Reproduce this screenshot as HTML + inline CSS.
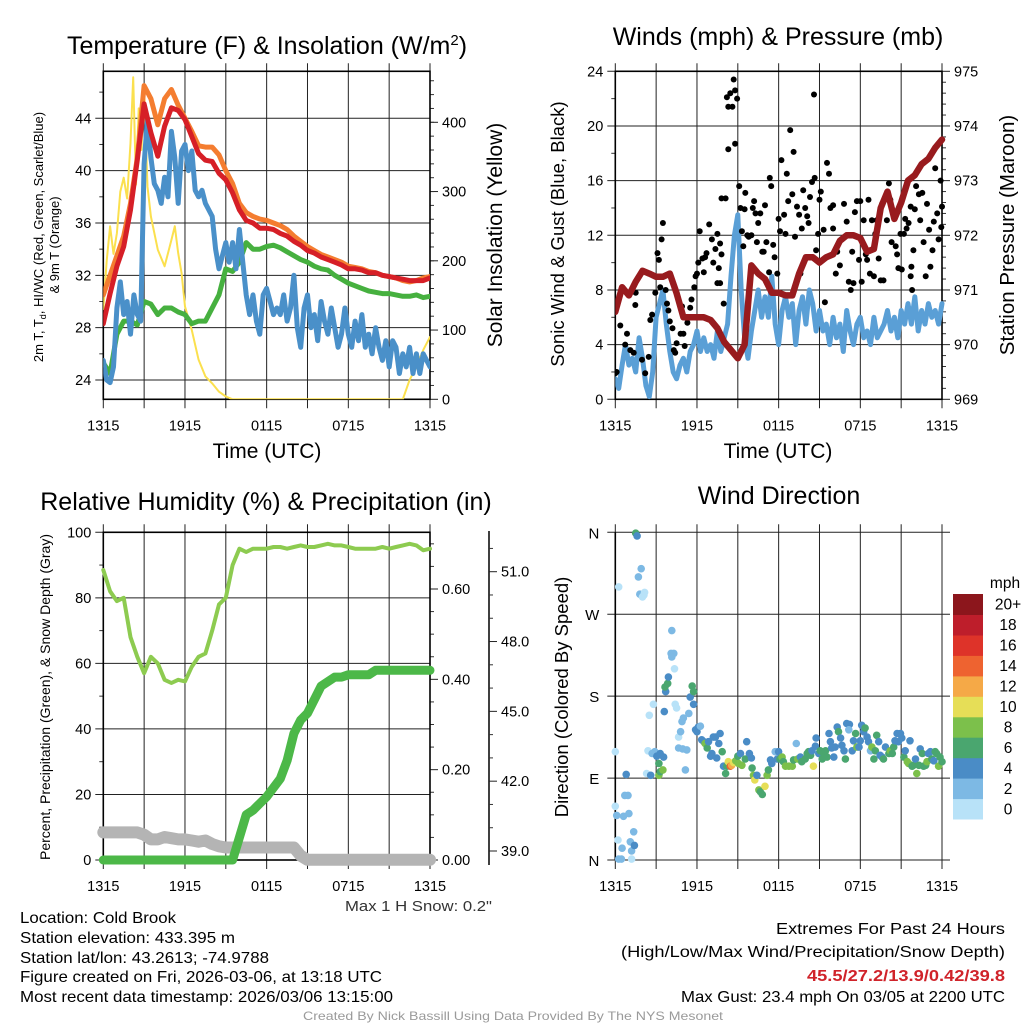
<!DOCTYPE html>
<html><head><meta charset="utf-8"><style>
html,body{margin:0;padding:0;background:#fff;}
svg{display:block;font-family:"Liberation Sans",Arial,sans-serif;}
</style></head><body>
<svg id="chart" width="1024" height="1024" viewBox="0 0 1024 1024" xmlns="http://www.w3.org/2000/svg">
<rect x="0" y="0" width="1024" height="1024" fill="#fff"/>
<!-- titles -->
<text x="267" y="54" font-size="25" text-anchor="middle">Temperature (F) &amp; Insolation (W/m<tspan dy="-9" font-size="15">2</tspan><tspan dy="9">)</tspan></text>
<text x="778" y="45" font-size="25" text-anchor="middle">Winds (mph) &amp; Pressure (mb)</text>
<text x="266" y="510" font-size="25" text-anchor="middle">Relative Humidity (%) &amp; Precipitation (in)</text>
<text x="779" y="504" font-size="25" text-anchor="middle">Wind Direction</text>
<!-- axis titles -->
<text x="267" y="458" font-size="21" text-anchor="middle">Time (UTC)</text>
<text x="778" y="458" font-size="21" text-anchor="middle">Time (UTC)</text>
<text transform="translate(43,237) rotate(-90)" font-size="13" text-anchor="middle">2m T, T<tspan font-size="9" dy="3">d</tspan><tspan dy="-3">, HI/WC (Red, Green, Scarlet/Blue)</tspan></text>
<text transform="translate(59,245) rotate(-90)" font-size="13" text-anchor="middle">&amp; 9m T (Orange)</text>
<text transform="translate(502,235) rotate(-90)" font-size="21" text-anchor="middle">Solar Insolation (Yellow)</text>
<text transform="translate(564,234) rotate(-90)" font-size="18.5" text-anchor="middle">Sonic Wind &amp; Gust (Blue, Black)</text>
<text transform="translate(1014,235) rotate(-90)" font-size="20.5" text-anchor="middle">Station Pressure (Maroon)</text>
<text transform="translate(50,697) rotate(-90)" font-size="14" text-anchor="middle">Percent, Precipitation (Green), &amp; Snow Depth (Gray)</text>
<text transform="translate(568,697) rotate(-90)" font-size="18.5" text-anchor="middle">Direction (Colored By Speed)</text>
<!-- footer -->
<g font-size="16">
<text x="20" y="923" textLength="156" lengthAdjust="spacingAndGlyphs">Location: Cold Brook</text>
<text x="20" y="943" textLength="215" lengthAdjust="spacingAndGlyphs">Station elevation: 433.395 m</text>
<text x="20" y="963" textLength="249" lengthAdjust="spacingAndGlyphs">Station lat/lon: 43.2613; -74.9788</text>
<text x="20" y="982" textLength="362" lengthAdjust="spacingAndGlyphs">Figure created on Fri, 2026-03-06, at 13:18 UTC</text>
<text x="20" y="1002" textLength="373" lengthAdjust="spacingAndGlyphs">Most recent data timestamp: 2026/03/06 13:15:00</text>
</g>
<g font-size="16">
<text x="776" y="934" textLength="229" lengthAdjust="spacingAndGlyphs">Extremes For Past 24 Hours</text>
<text x="621" y="957" textLength="384" lengthAdjust="spacingAndGlyphs">(High/Low/Max Wind/Precipitation/Snow Depth)</text>
<text x="807" y="981" textLength="198" lengthAdjust="spacingAndGlyphs" fill="#d0232a" font-weight="bold">45.5/27.2/13.9/0.42/39.8</text>
<text x="681" y="1002" textLength="324" lengthAdjust="spacingAndGlyphs">Max Gust: 23.4 mph On 03/05 at 2200 UTC</text>
</g>
<text x="345" y="911" font-size="15" textLength="147" lengthAdjust="spacingAndGlyphs" fill="#333">Max 1 H Snow: 0.2"</text>
<text x="303" y="1020" font-size="12" textLength="420" lengthAdjust="spacingAndGlyphs" fill="#9a9a9a">Created By Nick Bassill Using Data Provided By The NYS Mesonet</text>
</svg>
<script>
// ---------- DATA ----------
const tickTimes=[0,6,12,18,24];
const tickLabels=['1315','1915','0115','0715','1315'];
// Panel 1 (half-hour steps)
const tempRed=[28.3,30.6,32.7,34.2,37.0,40.8,45.1,42.9,41.1,43.4,44.8,44.6,43.9,42.6,41.3,40.8,40.7,39.8,39.3,38.3,37.0,36.2,36.0,35.6,35.6,35.5,35.2,35.0,34.6,34.3,33.9,33.7,33.4,33.2,33.0,32.8,32.5,32.5,32.4,32.2,32.2,32.0,31.9,31.8,31.7,31.6,31.6,31.6,31.8];
const temp9mOrange=[30.5,32.0,33.5,35.0,37.5,41.0,46.5,45.5,43.5,45.5,46.2,45.0,44.0,43.0,41.9,41.8,41.8,41.2,40.0,39.0,37.5,36.8,36.5,36.3,36.2,36.0,35.8,35.5,35.0,34.6,34.2,33.9,33.6,33.4,33.2,33.0,32.7,32.6,32.5,32.3,32.2,32.0,31.9,31.8,31.6,31.5,31.6,31.8,31.9];
const dewGreen=[25.3,24.5,27.5,28.5,28.5,28.2,30.0,29.8,29.0,29.5,29.5,29.2,29.0,28.3,28.5,28.5,29.5,30.5,32.5,32.3,33.0,34.5,34.0,34.0,34.2,34.3,34.1,33.8,33.5,33.2,33.0,32.7,32.5,32.4,32.0,31.7,31.4,31.2,31.0,30.8,30.7,30.6,30.6,30.5,30.4,30.4,30.5,30.3,30.4];
// quarter-hour steps
const windChillBlue=[25.5,24.0,23.8,25.0,29.5,31.5,29.0,30.0,27.5,30.5,29.0,28.5,40.5,44.0,41.0,39.0,38.5,37.5,39.5,38.0,43.0,41.0,37.5,41.5,42.0,40.0,41.5,38.5,38.0,38.5,37.5,37.0,36.5,34.0,32.5,33.5,34.5,33.0,34.5,32.5,35.5,33.0,30.5,29.0,30.5,28.5,27.5,30.5,31.0,30.0,29.0,29.5,29.0,30.5,28.5,29.5,32.0,28.0,26.5,29.5,30.5,28.0,29.0,27.0,30.0,28.5,27.5,29.5,28.0,26.5,27.5,29.5,27.5,26.5,28.5,27.0,29.0,26.5,27.5,26.0,28.0,26.5,25.5,27.0,25.0,27.0,26.5,24.5,26.0,25.0,26.5,24.5,26.0,24.5,26.0,25.5,25.0];
const solarTimes=[0,0.25,0.5,0.75,1,1.25,1.5,1.75,2,2.2,2.4,2.6,2.8,3,3.25,3.5,4,4.5,5,5.25,5.5,5.75,6,6.5,7,7.5,8,8.5,9,9.5,22,22.5,23,23.5,24];
const solarValues=[130,200,250,210,240,300,320,290,370,465,310,420,360,450,307,264,216,192,230,250,211,182,134,100,57,33,23,11,4,0,0,28,47,71,90];
// Panel 2
const sonicWind=[1.5,0.8,2.5,4.0,2.5,3.0,2.0,4.5,3.0,1.0,0.2,2.0,6.0,7.0,8.0,5.5,3.5,2.0,1.5,2.5,3.0,2.0,3.5,4.0,5.0,3.5,4.5,3.5,4.0,3.0,5.0,3.5,4.5,5.5,9.0,12.0,13.5,8.0,4.5,3.0,5.0,6.5,8.0,6.0,7.5,6.0,9.0,5.5,4.0,6.5,7.5,6.0,7.0,4.0,6.5,7.5,5.5,8.0,7.0,5.0,6.5,5.0,5.5,4.0,6.0,4.5,5.5,3.5,6.5,5.0,4.0,5.5,6.0,4.5,5.0,4.0,6.0,4.5,5.0,5.5,6.5,5.0,6.0,4.5,6.5,5.5,7.0,5.5,7.5,5.0,6.5,5.5,7.0,6.0,6.5,5.5,7.0];
const pressure=[970.6,971.05,970.9,971.15,971.35,971.3,971.24,971.24,971.3,970.94,970.5,970.5,970.5,970.5,970.45,970.3,970.05,969.9,969.75,970.0,971.45,971.3,971.2,970.95,970.95,970.9,970.9,971.3,971.6,971.6,971.5,971.6,971.65,971.9,972.0,972.0,971.95,971.7,971.75,972.5,972.8,972.3,972.6,973.0,973.1,973.3,973.4,973.6,973.75];
const gustTimes=[0,0.1,0.37,0.73,0.86,1.1,1.35,1.47,1.5,1.96,2.2,2.45,2.57,2.7,2.94,3.1,3.2,3.3,3.4,3.5,3.7,3.8,3.9,4.0,4.2,4.3,4.4,4.5,4.8,4.9,5.0,5.1,5.3,5.5,5.6,5.8,5.9,6.0,6.1,6.2,6.4,6.5,6.6,6.7,6.9,7.1,7.2,7.35,7.5,7.5,7.6,7.7,7.7,7.8,7.8,7.96,8.1,8.2,8.3,8.3,8.45,8.6,8.7,8.8,8.8,8.95,9.1,9.2,9.3,9.4,9.5,9.55,9.7,9.8,10.0,10.1,10.2,10.3,10.4,10.5,10.65,10.8,10.9,11.0,11.1,11.3,11.35,11.45,11.6,11.7,11.9,12.0,12.1,12.2,12.4,12.5,12.6,12.7,12.85,13.0,13.1,13.2,13.35,13.5,13.6,13.7,13.8,13.95,14.1,14.2,14.3,14.45,14.6,14.65,14.75,14.9,15.0,15.1,15.3,15.4,15.55,15.7,15.8,16.0,16.0,16.2,16.3,16.5,16.65,16.8,17.0,17.15,17.3,17.4,17.5,17.6,17.75,17.9,18.0,18.1,18.25,18.4,18.5,18.6,18.7,18.85,19.0,19.1,19.2,19.35,19.5,19.6,19.7,19.95,20.1,20.2,20.3,20.6,20.7,20.8,20.95,21.05,21.2,21.3,21.4,21.55,21.7,21.7,21.75,21.8,21.9,22.0,22.1,22.3,22.4,22.55,22.65,22.8,22.9,23.05,23.15,23.3,23.4,23.5,23.65,23.75,23.9,23.95,24.0];
const gustValues=[1.9,2.0,5.4,4.0,4.8,3.6,3.4,6.9,7.8,2.9,1.9,3.1,5.8,6.2,7.8,10.7,10.2,8.2,11.7,12.9,8.0,7.0,6.5,5.7,5.2,3.6,3.4,4.1,4.8,6.8,4.8,3.9,5.6,6.7,7.3,8.2,9.0,9.2,10.0,12.3,10.3,9.3,10.4,10.7,12.8,11.7,10.0,11.0,12.1,8.5,9.6,11.4,8.5,10.6,14.7,7.0,14.7,22.1,21.4,18.3,22.4,21.4,23.4,22.6,18.7,22.0,15.6,14.0,12.3,11.2,13.9,15.1,12.0,11.9,12.0,14.0,14.5,13.6,11.5,12.9,13.6,10.8,10.8,14.2,11.5,9.3,16.2,15.6,11.3,10.4,9.2,13.2,12.3,17.5,13.5,12.1,16.5,14.5,19.7,15.0,18.1,11.9,14.1,13.5,9.2,12.5,15.3,14.0,13.4,12.9,14.8,15.9,22.3,16.2,10.9,12.1,14.6,15.2,12.4,7.1,17.3,16.5,14.0,14.2,12.5,9.2,10.8,9.8,11.7,14.3,13.0,8.6,8.0,10.8,8.5,13.7,14.5,10.2,14.5,8.6,13.1,10.6,10.2,14.6,9.2,13.1,9.0,12.1,13.1,10.3,8.7,14.3,8.7,13.1,15.8,14.6,11.5,11.2,10.6,9.6,12.1,9.5,12.1,13.2,12.5,12.9,14.1,9.0,9.7,8.0,10.9,13.9,15.6,15.0,13.1,15.1,11.5,9.0,14.3,12.4,9.7,10.9,13.0,16.9,13.6,11.7,16.0,12.6,14.1];
// Panel 3 (half-hour steps)
const relHumidity=[88.5,82,79,80,68,62,57,62,60,55,54,55,54.5,59,62,63,70,78,80,90,95,94,95,95,95,95.5,95.5,95,95.5,96,95.5,95.5,96,96.5,96,96,95.5,95,95,95,95,95.5,95,95.5,96,96.5,96,94.5,95];
const precipIn=[0,0,0,0,0,0,0,0,0,0,0,0,0,0,0,0,0,0,0,0,0.05,0.10,0.11,0.125,0.14,0.16,0.18,0.22,0.28,0.31,0.325,0.355,0.385,0.395,0.405,0.405,0.41,0.41,0.41,0.41,0.42,0.42,0.42,0.42,0.42,0.42,0.42,0.42,0.42];
const snowDepth=[39.8,39.8,39.8,39.8,39.8,39.8,39.7,39.5,39.5,39.6,39.55,39.5,39.5,39.45,39.4,39.45,39.3,39.2,39.15,39.15,39.15,39.15,39.15,39.15,39.15,39.15,39.15,39.15,39.15,38.8,38.62,38.62,38.62,38.62,38.62,38.62,38.62,38.62,38.62,38.62,38.62,38.62,38.62,38.62,38.62,38.62,38.62,38.62,38.62];
// Panel 4
const dirTimes=[0,0,0.1,0.25,0.45,0.2,0.5,0.6,0.7,0.93,0.8,1.0,1.1,1.2,1.35,1.4,1.2,1.5,1.6,0.25,1.7,1.9,1.8,2.1,2.15,2.0,2.4,2.5,2.8,2.3,2.6,2.7,2.9,3.05,3.2,3.3,3.5,3.3,3.55,3.2,3.6,3.7,3.65,3.85,3.9,4.15,4.1,4.3,4.15,4.35,4.4,4.5,4.65,4.8,4.9,4.65,4.95,5.25,5.15,5.0,5.4,5.5,5.65,5.75,5.75,5.9,6.0,6.1,6.25,6.35,6.5,6.6,6.75,6.85,7.0,7.1,7.2,7.35,7.45,7.6,7.7,7.85,7.95,8.1,8.2,8.3,8.45,8.55,8.7,8.85,9.05,9.3,9.0,9.2,9.55,9.65,9.85,10.0,10.05,10.15,10.25,10.4,10.55,10.65,10.8,11.0,11.15,11.25,11.4,11.5,11.75,11.9,12.0,12.1,12.25,12.35,12.5,12.75,13.0,13.1,13.3,13.4,13.6,13.7,13.95,14.1,14.2,14.35,14.45,14.55,14.7,14.75,14.95,15.05,15.2,15.3,15.45,15.55,15.7,15.8,15.9,16.05,16.15,16.3,16.4,16.55,16.65,16.8,16.9,17.0,17.2,17.15,17.4,17.5,17.65,17.75,17.9,18.0,18.1,18.25,18.35,18.5,18.6,18.75,18.85,19.0,19.1,19.2,19.35,19.45,19.6,19.7,19.85,20.1,20.2,20.35,20.45,20.55,20.7,20.8,20.95,21.05,21.2,21.3,21.45,21.55,21.65,21.8,21.9,22.05,22.15,22.3,22.4,22.55,22.65,22.8,22.9,23.0,23.15,23.25,23.4,23.5,23.6,23.75,23.85,24.0];
const dirDegrees=[119,59,49,1,1,22,13,48,71,71,94,51,20,10,31,16,1,359,356,300,311,320,292,291,294,289,120,159,171,95,93,117,119,114,93,97,99,117,113,106,163,185,190,194,201,252,227,227,223,210,171,167,135,141,152,123,122,121,99,156,161,179,191,185,171,143,141,146,147,132,130,128,123,130,114,117,135,135,112,128,139,119,103,95,103,108,103,104,107,109,106,104,114,117,111,130,117,112,101,93,88,93,77,75,72,81,93,99,110,106,119,111,119,111,113,108,103,103,103,110,128,111,113,108,111,117,119,115,120,103,125,134,117,120,111,117,120,113,139,130,123,113,124,146,141,134,126,120,111,150,149,143,120,131,139,124,124,131,148,141,145,135,130,120,124,111,120,137,130,115,113,111,124,117,120,117,124,131,139,130,139,134,113,120,108,106,131,103,104,111,95,104,122,117,103,104,108,117,119,111,109,119,117,103,113,108];
const dirSpeeds=[1,1,3,3,3,1,3,3,3,3,5,3,3,3,3,5,1,7,5,1,3,3,3,1,1,1,1,1,1,1,5,3,3,5,9,7,9,5,5,7,5,5,7,7,5,3,3,3,3,1,1,1,1,3,3,3,3,3,3,3,3,5,7,7,5,5,5,5,3,5,5,9,7,5,5,5,5,5,5,5,5,7,5,7,7,11,15,13,11,9,9,9,7,5,7,5,5,5,7,9,11,5,9,7,7,11,9,7,5,5,3,5,5,7,9,7,9,9,9,7,3,9,5,7,7,7,7,7,5,11,5,5,5,7,7,7,7,7,5,5,5,5,5,5,7,5,5,5,7,5,5,3,5,5,7,9,5,5,5,5,7,5,5,3,9,7,7,7,5,5,5,7,5,7,9,7,7,5,5,5,5,5,7,5,9,9,5,7,7,5,9,7,5,7,7,7,9,5,5,7,5,7,7,9,7,7];
const dirTickValues=[0,90,180,270,360];
const dirTickLabels=['N','E','S','W','N'];
const speedBinLabels=['0','2','4','6','8','10','12','14','16','18','20+'];
const speedBinColors=['#b8e2f8','#7db9e4','#4a8cc6','#4aa66f','#7cc04b','#e6de57','#f5a947','#ee6330','#de3329','#be1e2b','#8c161c'];

// ---------- HELPERS ----------
const NS='http://www.w3.org/2000/svg';
const svg=document.getElementById('chart');
function mk(tag,attrs,parent,name){
  const e=document.createElementNS(NS,tag);
  for(const k in attrs) e.setAttribute(k,attrs[k]);
  
  
  (parent||svg).appendChild(e);
  return e;
}
function lin(d0,d1,r0,r1){return v=>r0+(v-d0)*(r1-r0)/(d1-d0);}
function halfHour(arr){return arr.map((_,i)=>i*24/(arr.length-1));}
function pathFrom(times,vals,xs,ys){
  let d='';
  const n=Math.min(times.length,vals.length);
  for(let i=0;i<n;i++){d+=(i?'L':'M')+xs(times[i]).toFixed(1)+' '+ys(vals[i]).toFixed(1);}
  return d;
}
function txt(x,y,s,anchor,parent,name,size){
  const t=mk('text',{x:x,y:y,'font-size':size||14.5,'text-anchor':anchor},parent,name);
  t.textContent=s;return t;
}
function panel(p,name){
  const g=mk('g',{},svg,name);
  for(let h=0;h<=24;h+=3){
    const x=p.xs(h);
    mk('line',{x1:x,x2:x,y1:p.y0-8,y2:p.y1+9,stroke:'#222','stroke-width':1},g,'v-gridline');
  }
  tickTimes.forEach((t,i)=>{txt(p.xs(t),p.y1+31,tickLabels[i],'middle',g,'x-tick-label');});
  return g;
}
function leftAxis(p,g,ticks,labels,ys,minors){
  ticks.forEach((v,i)=>{
    const y=ys(v);
    mk('line',{x1:p.x0-8,x2:p.x1,y1:y,y2:y,stroke:'#222','stroke-width':1},g,'h-gridline');
    txt(p.x0-12,y+5,labels[i],'end',g,'y-tick-label');
  });
  (minors||[]).forEach(v=>{const y=ys(v);mk('line',{x1:p.x0-4,x2:p.x0,y1:y,y2:y,stroke:'#333','stroke-width':1},g,'y-minor-tick');});
}
function rightAxis(x,g,ticks,labels,ys,minors,len,name){
  ticks.forEach((v,i)=>{
    const y=ys(v);
    mk('line',{x1:x,x2:x+len,y1:y,y2:y,stroke:'#222','stroke-width':1},g,name+'-tick');
    txt(x+12,y+5,labels[i],'start',g,name+'-tick-label');
  });
  minors.forEach(v=>{const y=ys(v);mk('line',{x1:x,x2:x+4,y1:y,y2:y,stroke:'#333','stroke-width':1},g,name+'-minor-tick');});
}
function frame(p,g){
  mk('rect',{x:p.x0,y:p.y0,width:p.x1-p.x0,height:p.y1-p.y0,fill:'none',stroke:'#000','stroke-width':1.6},g,'plot-frame');
}
function range(a,b,s){const r=[];for(let v=a;v<=b+1e-9;v+=s)r.push(+v.toFixed(3));return r;}

// ---------- PANEL 1 ----------
const P1={x0:103.3,x1:430,y0:71.3,y1:399.3};P1.xs=lin(0,24,P1.x0,P1.x1);
const yT=lin(24,44,380,118.3), ySol=lin(0,400,399.3,122.3);
const g1=panel(P1,'temperature-panel');
leftAxis(P1,g1,[24,28,32,36,40,44],['24','28','32','36','40','44'],yT,[26,30,34,38,42,46]);
rightAxis(P1.x1,g1,[0,100,200,300,400],['0','100','200','300','400'],ySol,range(20,460,20),8,'solar');
const clip1=mk('clipPath',{id:'c1'},svg,'clip-p1');
mk('rect',{x:P1.x0,y:P1.y0,width:P1.x1-P1.x0,height:P1.y1-P1.y0},clip1,'clip-rect');
const s1=mk('g',{'clip-path':'url(#c1)','stroke-linejoin':'round','stroke-linecap':'round',fill:'none'},svg,'temperature-series');
mk('path',{d:pathFrom(solarTimes,solarValues,P1.xs,ySol),stroke:'#fbe04e','stroke-width':2},s1,'solar-insolation-line');
mk('path',{d:pathFrom(halfHour(dewGreen),dewGreen,P1.xs,yT),stroke:'#46b03f','stroke-width':5},s1,'dewpoint-line');
mk('path',{d:pathFrom(halfHour(windChillBlue),windChillBlue,P1.xs,yT),stroke:'#4a90c9','stroke-width':5},s1,'wind-chill-line');
mk('path',{d:pathFrom(halfHour(temp9mOrange),temp9mOrange,P1.xs,yT),stroke:'#f47d30','stroke-width':5},s1,'temp-9m-line');
mk('path',{d:pathFrom(halfHour(tempRed),tempRed,P1.xs,yT),stroke:'#d61f27','stroke-width':5},s1,'temp-2m-line');
frame(P1,g1);

// ---------- PANEL 2 ----------
const P2={x0:615.3,x1:942,y0:71.3,y1:399.3};P2.xs=lin(0,24,P2.x0,P2.x1);
const yW=lin(0,24,399.3,71.3), yP=lin(969,975,399.3,71.3);
const g2=panel(P2,'winds-panel');
leftAxis(P2,g2,[0,4,8,12,16,20,24],['0','4','8','12','16','20','24'],yW,[2,6,10,14,18,22]);
rightAxis(P2.x1,g2,[969,970,971,972,973,974,975],['969','970','971','972','973','974','975'],yP,range(969.2,974.8,0.2).filter(v=>Math.abs(v-Math.round(v))>0.01),8,'pressure');
const clip2=mk('clipPath',{id:'c2'},svg,'clip-p2');
mk('rect',{x:P2.x0,y:P2.y0-4,width:P2.x1-P2.x0+4,height:P2.y1-P2.y0+8},clip2,'clip-rect');
const s2=mk('g',{'clip-path':'url(#c2)','stroke-linejoin':'round','stroke-linecap':'round',fill:'none'},svg,'winds-series');
mk('path',{d:pathFrom(halfHour(sonicWind),sonicWind,P2.xs,yW),stroke:'#5a9fd6','stroke-width':5},s2,'sonic-wind-line');
const gustG=mk('g',{fill:'#000'},s2,'gust-points');
for(let i=0;i<Math.min(gustTimes.length,gustValues.length);i++){
  mk('circle',{cx:P2.xs(gustTimes[i]).toFixed(1),cy:yW(gustValues[i]).toFixed(1),r:3},gustG,'gust-point');
}
mk('path',{d:pathFrom(halfHour(pressure),pressure,P2.xs,yP),stroke:'#981b1e','stroke-width':6.5},s2,'pressure-line');
frame(P2,g2);

// ---------- PANEL 3 ----------
const P3={x0:103.3,x1:430,y0:532.3,y1:860};P3.xs=lin(0,24,P3.x0,P3.x1);
const yRH=lin(0,100,860,532.3), yPr=lin(0,0.6,860,589), ySn=lin(39,51,851,571.7);
const g3=panel(P3,'humidity-panel');
leftAxis(P3,g3,[0,20,40,60,80,100],['0','20','40','60','80','100'],yRH,[10,30,50,70,90]);
rightAxis(P3.x1,g3,[0,0.2,0.4,0.6],['0.00','0.20','0.40','0.60'],yPr,[0.05,0.1,0.15,0.25,0.3,0.35,0.45,0.5,0.55,0.65,0.7],8,'precip');
mk('line',{x1:489,x2:489,y1:531,y2:865,stroke:'#000','stroke-width':1.5},g3,'snow-axis-line');
rightAxis(489,g3,[39,42,45,48,51],['39.0','42.0','45.0','48.0','51.0'],ySn,[40,41,43,44,46,47,49,50,52],8,'snow');
const s3=mk('g',{'stroke-linejoin':'round','stroke-linecap':'round',fill:'none'},svg,'humidity-series');
mk('path',{d:pathFrom(halfHour(snowDepth),snowDepth,P3.xs,ySn),stroke:'#b4b4b4','stroke-width':12},s3,'snow-depth-line');
mk('path',{d:pathFrom(halfHour(precipIn),precipIn,P3.xs,yPr),stroke:'#4cb848','stroke-width':9},s3,'precipitation-line');
mk('path',{d:pathFrom(halfHour(relHumidity),relHumidity,P3.xs,yRH),stroke:'#8dcb50','stroke-width':4},s3,'relative-humidity-line');
frame(P3,g3);

// ---------- PANEL 4 ----------
const P4={x0:615.3,x1:942,y0:532.3,y1:860};P4.xs=lin(0,24,P4.x0,P4.x1);
const yD=lin(0,360,860,532.3);
const g4=panel(P4,'wind-direction-panel');
dirTickValues.forEach((v,i)=>{
  const y=yD(v);
  mk('line',{x1:P4.x0-8,x2:P4.x1+8,y1:y,y2:y,stroke:'#222','stroke-width':1},g4,'direction-gridline');
  txt(P4.x0-16,y+6,dirTickLabels[i],'end',g4,'direction-tick-label',15);
});
mk('line',{x1:P4.x0,x2:P4.x0,y1:P4.y0,y2:P4.y1,stroke:'#000','stroke-width':1.6},g4,'direction-axis-line');
const s4=mk('g',{},svg,'direction-points');
for(let i=0;i<Math.min(dirTimes.length,dirDegrees.length,dirSpeeds.length);i++){
  const bin=Math.min(speedBinColors.length-1,Math.floor(dirSpeeds[i]/2));
  mk('circle',{cx:P4.xs(dirTimes[i]).toFixed(1),cy:yD(dirDegrees[i]).toFixed(1),r:3.8,fill:speedBinColors[bin]},s4,'direction-point');
}
// colorbar
const cb=mk('g',{},svg,'speed-colorbar');
const cbTop=594,cbBot=819,cbH=(cbBot-cbTop)/speedBinColors.length;
speedBinColors.forEach((c,i)=>{
  const y=cbBot-(i+1)*cbH;
  mk('rect',{x:953,y:y.toFixed(1),width:30,height:(cbH+0.5).toFixed(1),fill:c},cb,'colorbar-box');
  txt(1008,(y+cbH/2+5.5).toFixed(1),speedBinLabels[i],'middle',cb,'colorbar-label',15.5);
});
txt(1005,588,'mph','middle',cb,'colorbar-title',15.5);
</script>
</body></html>
